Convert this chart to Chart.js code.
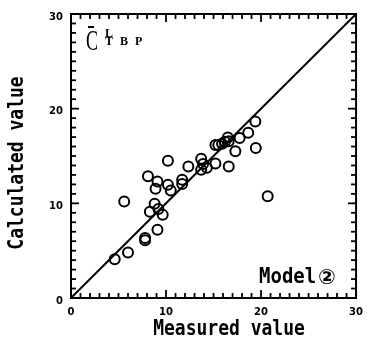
<!DOCTYPE html>
<html>
<head>
<meta charset="utf-8">
<script src="https://cdn.jsdelivr.net/npm/chart.js@4.4.0/dist/chart.umd.min.js"></script>
<style>
  body { margin: 0; background: #fff; }
  canvas { display: block; }
</style>
</head>
<body>
<canvas id="tbp-chart" width="371" height="343"></canvas>
<script>
// Measured vs calculated C(L,TBP), model 2
const measured = [
    4.6, 6.0, 5.6, 7.8, 7.8, 8.1, 8.3, 8.8, 9.1, 9.1, 8.9, 9.2, 9.65,
    10.2, 10.2, 10.5, 11.7, 11.7, 12.35, 13.7, 13.7, 13.9, 14.3, 15.2,
    15.2, 15.5, 15.9, 16.2, 16.5, 16.6, 16.6, 17.3, 17.75, 18.65, 19.4,
    19.45, 20.7
];
const calculated = [
    4.1, 4.8, 10.2, 6.1, 6.35, 12.85, 9.1, 9.95, 7.2, 12.3, 11.55, 9.4, 8.8,
    11.95, 14.5, 11.35, 12.5, 12.05, 13.9, 14.7, 13.55, 14.15, 13.75, 14.2,
    16.15, 16.15, 16.3, 16.5, 16.95, 13.9, 16.55, 15.5, 16.9, 17.45, 18.65,
    15.85, 10.75
];

// 1:1 line
const lineX = [0, 30];
const lineY = [0, 30];

const axisMin = 0;
const axisMax = 30;
const axisStep = 10;

const xTitle = 'Measured value';
const yTitle = 'Calculated value';
const modelLabel = 'Model';
const modelNumber = '②';

const titleFont = 'bold 18px "DejaVu Sans Mono"';

function tickLine(ctx, x1, y1, x2, y2) {
    ctx.beginPath();
    ctx.moveTo(x1, y1);
    ctx.lineTo(x2, y2);
    ctx.stroke();
}

// Frame, inward ticks and the text drawn on top of the plot
const frameAndText = {
    id: 'frameAndText',
    afterDraw(chart) {
        const c = chart.ctx;
        const a = chart.chartArea;
        const sx = chart.scales.x;
        const sy = chart.scales.y;
        c.save();
        c.strokeStyle = '#000';
        c.fillStyle = '#000';

        c.lineWidth = 2;
        c.strokeRect(a.left, a.top, a.right - a.left, a.bottom - a.top);

        // minor tick every unit, longer ones on the labelled values
        c.lineWidth = 1.8;
        for (let v = axisMin + 1; v < axisMax; v++) {
            const len = (v % axisStep === 0) ? 8 : 5;
            const px = sx.getPixelForValue(v);
            const py = sy.getPixelForValue(v);
            tickLine(c, px, a.bottom, px, a.bottom - len);
            tickLine(c, px, a.top, px, a.top + len);
            tickLine(c, a.left, py, a.left + len, py);
            tickLine(c, a.right, py, a.right - len, py);
        }

        // axis titles, slightly stretched like the typewriter lettering
        c.font = titleFont;
        c.textAlign = 'center';
        c.textBaseline = 'alphabetic';
        c.save();
        c.translate(229, 335);
        c.scale(1, 1.15);
        c.fillText(xTitle, 0, 0);
        c.restore();

        c.save();
        c.translate(23, 163);
        c.rotate(-Math.PI / 2);
        c.scale(1, 1.15);
        c.fillText(yTitle, 0, 0);
        c.restore();

        // Model (2) label
        c.textAlign = 'left';
        c.save();
        c.translate(259, 283);
        c.scale(1, 1.15);
        c.font = 'bold 19px "DejaVu Sans Mono"';
        c.fillText(modelLabel, 0, 0);
        c.restore();
        c.font = 'bold 21px "DejaVu Sans", "Noto Sans CJK JP"';
        c.fillText(modelNumber, 318, 284);

        // C-bar with L superscript and TBP subscript
        c.save();
        c.translate(86, 50);
        c.scale(0.62, 1);
        c.font = '29px "Liberation Serif"';
        c.fillText('C', 0, 0);
        c.restore();
        c.lineWidth = 2;
        tickLine(c, 88, 27, 94, 27);
        c.font = 'bold 12px "Liberation Serif"';
        c.fillText('L', 105, 37);
        c.fillText('T', 105, 45);
        c.fillText('B', 120, 45);
        c.fillText('P', 135, 45);

        c.restore();
    }
};

const points = measured.map((m, i) => ({ x: m, y: calculated[i] }));
const linePoints = lineX.map((v, i) => ({ x: v, y: lineY[i] }));

new Chart(document.getElementById('tbp-chart'), {
    type: 'scatter',
    data: {
        datasets: [
            {
                data: linePoints,
                showLine: true,
                borderColor: '#000',
                borderWidth: 2,
                pointRadius: 0,
                order: 2
            },
            {
                data: points,
                pointRadius: 5,
                pointBorderWidth: 2,
                pointBorderColor: '#000',
                pointBackgroundColor: 'rgba(255,255,255,0)',
                order: 1
            }
        ]
    },
    options: {
        responsive: false,
        animation: false,
        layout: { padding: { top: 14, right: 12, left: 0, bottom: 0 } },
        plugins: {
            legend: { display: false },
            tooltip: { enabled: false }
        },
        scales: {
            x: {
                type: 'linear',
                min: axisMin,
                max: axisMax,
                afterFit(scale) { scale.height = 45; },
                grid: { display: false, drawTicks: false },
                border: { display: false },
                ticks: {
                    stepSize: axisStep,
                    padding: 8,
                    color: '#000',
                    font: { family: 'DejaVu Sans', size: 10, weight: 'bold' }
                }
            },
            y: {
                type: 'linear',
                min: axisMin,
                max: axisMax,
                afterFit(scale) { scale.width = 71; },
                grid: { display: false, drawTicks: false },
                border: { display: false },
                ticks: {
                    stepSize: axisStep,
                    padding: 8,
                    labelOffset: 3,
                    color: '#000',
                    font: { family: 'DejaVu Sans', size: 10, weight: 'bold' }
                }
            }
        }
    },
    plugins: [frameAndText]
});
</script>
</body>
</html>
